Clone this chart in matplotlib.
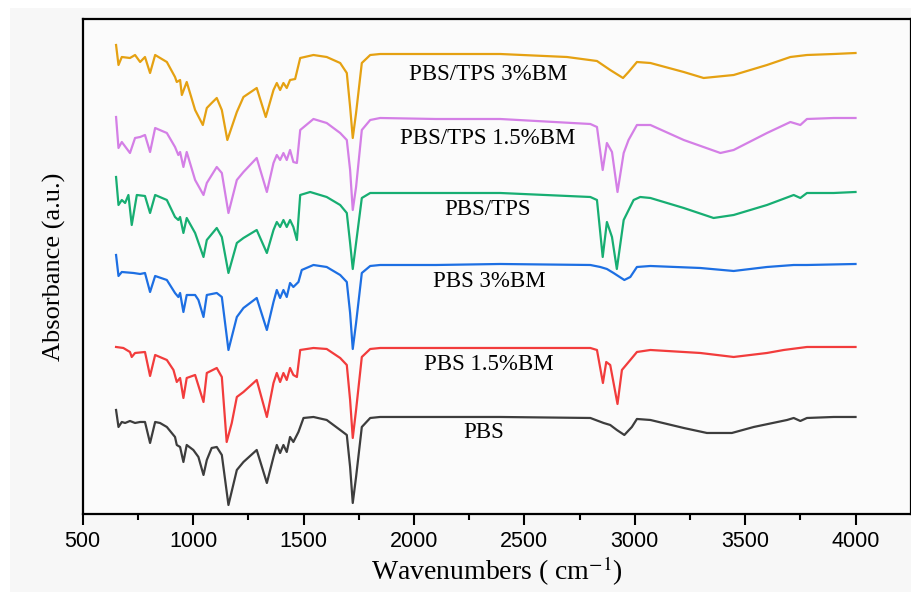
# FTIR spectra - PBS / TPS / BM films
import matplotlib.pyplot as plt
from matplotlib.patches import Rectangle

# wavenumber (cm-1) and absorbance (a.u., stacked)
pbs_wn = [651, 662, 677, 692, 714, 737, 760, 782, 805, 828, 850, 881, 918, 926, 941, 956, 971,
          1001, 1024, 1047, 1062, 1084, 1107, 1130, 1160, 1198, 1228, 1288, 1334, 1364, 1379,
          1394, 1409, 1424, 1439, 1454, 1477, 1500, 1545, 1605, 1666, 1696, 1711, 1723, 1738,
          1764, 1802, 1847, 2100, 2391, 2799, 2859, 2889, 2919, 2953, 2987, 3010, 3071, 3222,
          3327, 3440, 3539, 3690, 3720, 3750, 3780, 3901, 4000]
pbs_y = [104, 87, 92, 91, 93, 91, 92, 92, 71, 92, 91, 87, 77, 69, 67, 52, 69,
         64, 57, 39, 54, 66, 67, 59, 9, 44, 52, 64, 31, 57, 69,
         61, 69, 62, 77, 72, 82, 96, 97, 94, 84, 79, 47, 11, 37,
         87, 96, 97, 97, 97, 96, 91, 89, 84, 79, 87, 95, 94, 86,
         81, 81, 87, 94, 96, 93, 96, 97, 97]

pbs15_wn = [651, 684, 714, 722, 737, 782, 805, 828, 881, 911, 926, 941, 956, 971, 1009, 1047,
            1062, 1107, 1130, 1152, 1175, 1198, 1228, 1288, 1334, 1364, 1379, 1394, 1409, 1424,
            1439, 1454, 1470, 1485, 1545, 1605, 1666, 1696, 1711, 1723, 1738, 1764, 1802, 1847,
            2100, 2391, 2799, 2829, 2856, 2871, 2889, 2922, 2942, 2980, 3010, 3071, 3297, 3448,
            3599, 3675, 3780, 4000]
pbs15_y = [167, 166, 162, 157, 161, 162, 138, 159, 154, 144, 132, 136, 116, 136, 139, 112,
           141, 146, 137, 72, 91, 117, 122, 134, 97, 131, 141, 132, 141, 134,
           146, 139, 137, 164, 166, 165, 156, 149, 114, 76, 104, 157, 165, 166,
           166, 166, 166, 164, 131, 152, 149, 110, 144, 154, 162, 164, 161, 157,
           161, 164, 167, 167]

pbs3_wn = [651, 662, 677, 730, 760, 782, 805, 828, 881, 918, 933, 941, 956, 971, 1009, 1024,
           1047, 1062, 1107, 1130, 1160, 1198, 1228, 1288, 1334, 1364, 1379, 1394, 1409, 1424,
           1439, 1454, 1477, 1492, 1545, 1605, 1666, 1696, 1711, 1723, 1738, 1764, 1802, 1847,
           2100, 2391, 2799, 2844, 2874, 2904, 2953, 2980, 3010, 3071, 3297, 3448, 3599, 3720,
           3780, 4000]
pbs3_y = [259, 238, 242, 241, 240, 241, 222, 238, 234, 221, 217, 221, 202, 219, 219, 214,
          197, 219, 221, 217, 164, 197, 206, 216, 184, 212, 224, 216, 224, 217,
          231, 227, 232, 244, 249, 247, 239, 232, 201, 165, 191, 241, 248, 249,
          249, 250, 249, 247, 245, 241, 234, 237, 247, 248, 246, 243, 247, 249,
          249, 250]

tps_wn = [651, 662, 677, 692, 707, 722, 745, 782, 805, 828, 881, 918, 933, 941, 956, 971, 1009,
          1047, 1062, 1107, 1130, 1160, 1198, 1228, 1288, 1334, 1364, 1379, 1394, 1409, 1424,
          1439, 1454, 1470, 1485, 1530, 1605, 1666, 1696, 1711, 1723, 1738, 1764, 1802, 1847,
          2100, 2391, 2799, 2829, 2855, 2874, 2897, 2919, 2950, 2995, 3025, 3071, 3222, 3357,
          3448, 3599, 3720, 3750, 3780, 3901, 4000]
tps_y = [337, 309, 314, 311, 319, 289, 319, 318, 301, 319, 314, 297, 294, 297, 281, 296, 281,
         257, 274, 286, 277, 241, 271, 276, 284, 261, 284, 292, 287, 294, 287,
         294, 287, 274, 319, 322, 317, 309, 301, 271, 245, 271, 316, 321, 321,
         321, 321, 317, 314, 257, 292, 277, 245, 294, 314, 317, 316, 306, 296,
         299, 309, 319, 316, 321, 321, 322]

tps15_wn = [651, 662, 677, 714, 737, 760, 782, 805, 828, 881, 918, 933, 941, 956, 971, 1009,
            1047, 1062, 1107, 1130, 1160, 1198, 1228, 1288, 1334, 1364, 1379, 1394, 1409, 1424,
            1439, 1454, 1470, 1485, 1545, 1605, 1666, 1696, 1711, 1723, 1738, 1764, 1802, 1847,
            2100, 2391, 2799, 2829, 2855, 2874, 2897, 2922, 2950, 2972, 3010, 3071, 3222, 3388,
            3448, 3599, 3705, 3750, 3780, 3901, 4000]
tps15_y = [397, 366, 372, 361, 376, 377, 379, 362, 386, 381, 367, 359, 362, 347, 362, 334,
           319, 331, 347, 341, 301, 334, 342, 356, 322, 351, 359, 354, 361, 354,
           364, 352, 351, 384, 395, 391, 381, 374, 344, 304, 327, 384, 394, 396,
           395, 395, 390, 387, 344, 371, 362, 322, 361, 374, 389, 389, 374, 361,
           364, 381, 392, 389, 395, 396, 396]

tps3_wn = [651, 662, 677, 714, 737, 760, 782, 805, 828, 881, 918, 926, 941, 949, 971, 1009,
           1044, 1062, 1084, 1107, 1130, 1155, 1198, 1228, 1288, 1329, 1364, 1379, 1394, 1409,
           1424, 1439, 1462, 1485, 1545, 1605, 1666, 1696, 1711, 1723, 1738, 1764, 1802, 1847,
           2391, 2693, 2829, 2889, 2947, 2972, 3010, 3071, 3222, 3312, 3448, 3599, 3705, 3780,
           3901, 4000]
tps3_y = [469, 449, 457, 456, 459, 452, 457, 441, 459, 452, 437, 432, 434, 419, 432, 404,
          389, 406, 411, 416, 404, 374, 402, 417, 426, 397, 424, 431, 424, 431,
          426, 434, 435, 456, 459, 457, 451, 441, 407, 376, 401, 451, 459, 460,
          460, 457, 453, 444, 436, 442, 452, 451, 442, 436, 439, 449, 457, 459,
          460, 461]

series = [
    (pbs_wn, pbs_y, '#3d3d3d', 'PBS', (2318, 81)),
    (pbs15_wn, pbs15_y, '#f23c3c', 'PBS 1.5%BM', (2341, 149)),
    (pbs3_wn, pbs3_y, '#1d6fe3', 'PBS 3%BM', (2341, 232)),
    (tps_wn, tps_y, '#17ae72', 'PBS/TPS', (2332, 304)),
    (tps15_wn, tps15_y, '#d47fe6', 'PBS/TPS 1.5%BM', (2336, 375)),
    (tps3_wn, tps3_y, '#e5a112', 'PBS/TPS 3%BM', (2336, 440)),
]

plt.rcParams['mathtext.fontset'] = 'stix'

fig = plt.figure(figsize=(9.12, 5.92), dpi=100, facecolor='white')
fig.patches.append(Rectangle((10 / 912, 0), 1, 584 / 592, transform=fig.transFigure,
                             facecolor='#f7f7f7', edgecolor='none', zorder=-10))
ax = fig.add_axes([0.0907, 0.1318, 0.9079, 0.8361])
ax.set_facecolor('#fbfbfb')

for wn, y, col, name, pos in series:
    ax.plot(wn, y, color=col, lw=1.6, solid_joinstyle='round')
    ax.text(pos[0], pos[1], name, ha='center', va='center', fontsize=16.5,
            family='Liberation Serif', color='black')

ax.set_xlim(500, 4250)
ax.set_ylim(0, 495)
ax.set_xticks([500, 1000, 1500, 2000, 2500, 3000, 3500, 4000])
ax.set_xticks([750, 1250, 1750, 2250, 2750, 3250, 3750], minor=True)
ax.set_yticks([])
ax.tick_params(axis='x', which='major', direction='out', length=8, width=1.5, pad=4,
               labelsize=15.5)
ax.tick_params(axis='x', which='minor', direction='out', length=4.5, width=1.5)
for lab in ax.get_xticklabels():
    lab.set_family('Liberation Sans')
for sp in ax.spines.values():
    sp.set_linewidth(1.6)
    sp.set_color('black')

ax.set_xlabel('Wavenumbers ( cm$^{-1}$)', fontsize=20, family='Liberation Serif', labelpad=2)
ax.set_ylabel('Absorbance (a.u.)', fontsize=19, family='Liberation Serif', labelpad=12)

fig.savefig('out.png', dpi=100, facecolor=fig.get_facecolor())
